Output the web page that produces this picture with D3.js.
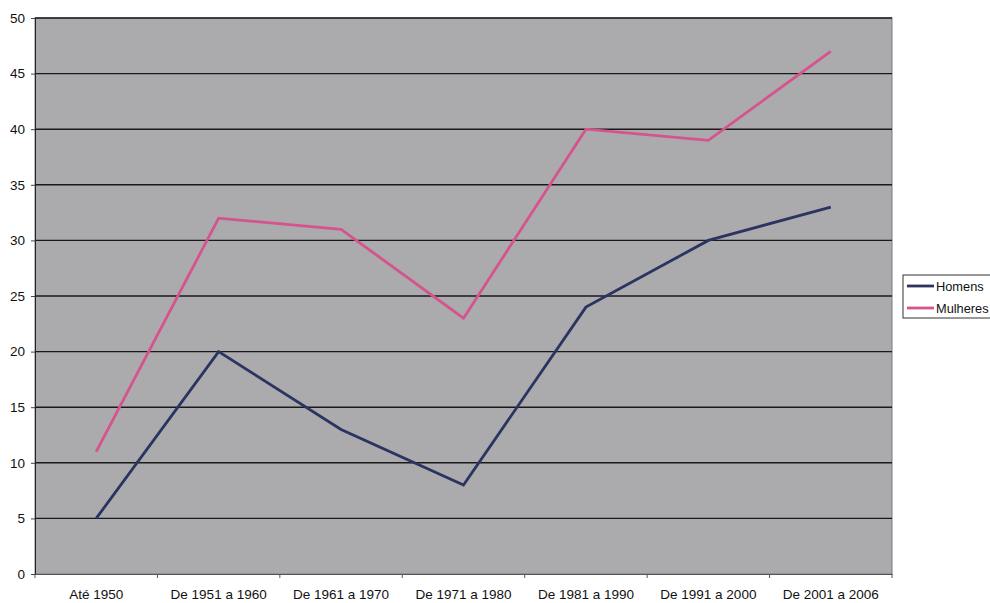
<!DOCTYPE html>
<html><head><meta charset="utf-8">
<script src="https://cdn.jsdelivr.net/npm/d3@7"></script>
<style>
html,body{margin:0;padding:0;background:#fff;}
svg{display:block;font-family:"Liberation Sans",Arial,sans-serif;}
</style></head>
<body>
<svg id="c" width="990" height="603"></svg>
<script>
const categories = ["Até 1950","De 1951 a 1960","De 1961 a 1970","De 1971 a 1980","De 1981 a 1990","De 1991 a 2000","De 2001 a 2006"];
const homens = [5, 20, 13, 8, 24, 30, 33];
const mulheres = [11, 32, 31, 23, 40, 39, 47];
const yTicks = [0,5,10,15,20,25,30,35,40,45,50];
const seriesNames = ["Homens","Mulheres"];
const seriesColors = ["#2b3461","#d6538e"];

const svg = d3.select("#c");
const L = 35, R = 892, T = 18, B = 574;

const x = d3.scaleBand().domain(categories).range([L, R]).padding(0);
const y = d3.scaleLinear().domain([0, 50]).range([B, T]);

svg.append("rect").attr("x", L).attr("y", T).attr("width", R - L).attr("height", B - T)
  .attr("fill", "#ababad").attr("stroke", "#7a7a7a").attr("stroke-width", 1);

// gridlines
svg.append("g").selectAll("line").data(yTicks.filter(d => d > 0)).join("line")
  .attr("x1", L).attr("x2", R).attr("y1", d => y(d)).attr("y2", d => y(d))
  .attr("stroke", "#1a1a1a").attr("stroke-width", 1.4);

// y axis
const yAxis = svg.append("g").attr("transform", `translate(${L},0)`)
  .call(d3.axisLeft(y).tickValues(yTicks).tickSize(4).tickPadding(6));
yAxis.select(".domain").attr("stroke", "#222");
yAxis.selectAll("line").attr("stroke", "#444");
yAxis.selectAll("text").attr("font-size", 13.5).attr("fill", "#111");

// x axis
const xAxis = svg.append("g").attr("transform", `translate(0,${B})`)
  .call(d3.axisBottom(x).tickSize(0).tickPadding(15));
xAxis.select(".domain").attr("stroke", "#555");
xAxis.selectAll("text").attr("font-size", 13.5).attr("fill", "#111");
// boundary ticks
svg.append("g").selectAll("line").data(categories.concat([null])).join("line")
  .attr("x1", (d, i) => L + i * x.bandwidth()).attr("x2", (d, i) => L + i * x.bandwidth())
  .attr("y1", B).attr("y2", B + 4).attr("stroke", "#555");

const line = d3.line().x((d, i) => x(categories[i]) + x.bandwidth() / 2).y(d => y(d));
[homens, mulheres].forEach((s, k) => {
  svg.append("path").datum(s).attr("d", line).attr("fill", "none")
    .attr("stroke", seriesColors[k]).attr("stroke-width", 2.8).attr("stroke-linejoin", "miter");
});

// legend
const lg = svg.append("g");
lg.append("rect").attr("x", 903).attr("y", 275).attr("width", 100).attr("height", 43)
  .attr("fill", "#fff").attr("stroke", "#333").attr("stroke-width", 1);
seriesNames.forEach((n, i) => {
  const yy = 286 + i * 22;
  lg.append("line").attr("x1", 907).attr("x2", 934).attr("y1", yy).attr("y2", yy)
    .attr("stroke", seriesColors[i]).attr("stroke-width", 2.8);
  lg.append("text").attr("x", 936).attr("y", yy + 5).attr("font-size", 12.8).attr("fill", "#111").text(n);
});
</script>
</body></html>
